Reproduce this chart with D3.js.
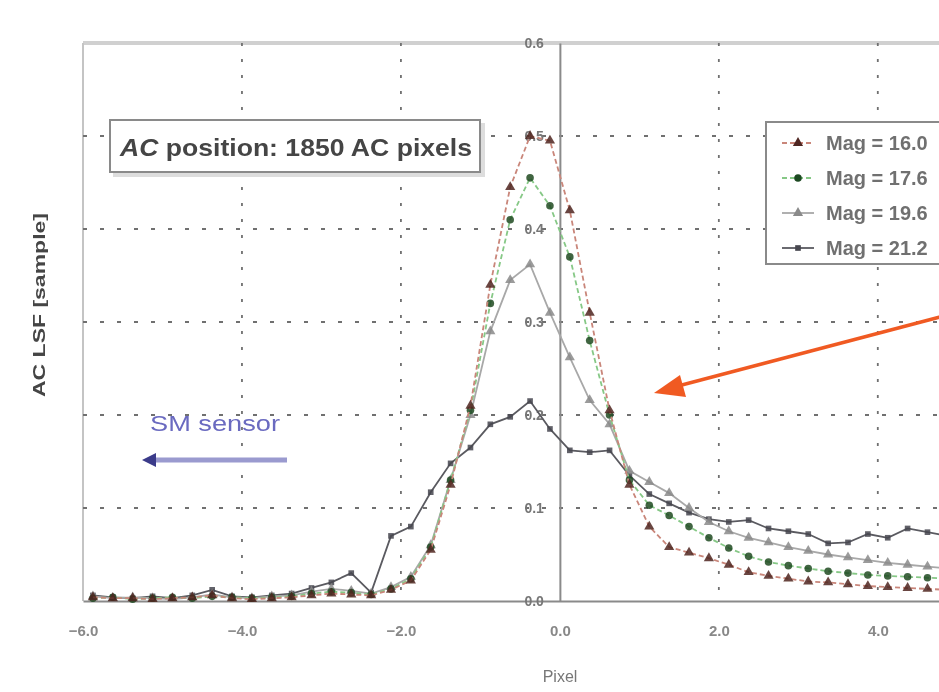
<!DOCTYPE html>
<html>
<head>
<meta charset="utf-8">
<script src="https://cdn.jsdelivr.net/npm/d3@7"></script>
<style>
  body { margin: 0; background: #fff; }
  svg { display: block; font-family: Arial, "Liberation Sans", sans-serif; }
</style>
</head>
<body>
<svg width="939" height="692"></svg>
<script>
// sample positions (pixel units)
var pixels = [-5.875, -5.625, -5.375, -5.125, -4.875, -4.625, -4.375, -4.125, -3.875, -3.625,
  -3.375, -3.125, -2.875, -2.625, -2.375, -2.125, -1.875, -1.625, -1.375, -1.125,
  -0.875, -0.625, -0.375, -0.125, 0.125, 0.375, 0.625, 0.875, 1.125, 1.375,
  1.625, 1.875, 2.125, 2.375, 2.625, 2.875, 3.125, 3.375, 3.625, 3.875,
  4.125, 4.375, 4.625, 4.875];

var mag160 = [0.004, 0.003, 0.003, 0.002, 0.003, 0.004, 0.006, 0.003, 0.002, 0.003,
  0.004, 0.006, 0.008, 0.007, 0.006, 0.012, 0.022, 0.055, 0.125, 0.21,
  0.34, 0.445, 0.50, 0.495, 0.42, 0.31, 0.205, 0.125, 0.08, 0.058,
  0.052, 0.046, 0.039, 0.031, 0.027, 0.024, 0.021, 0.02, 0.018, 0.016,
  0.015, 0.014, 0.013, 0.012];
var mag176 = [0.003, 0.004, 0.002, 0.003, 0.004, 0.003, 0.005, 0.004, 0.003, 0.004,
  0.005, 0.008, 0.01, 0.009, 0.007, 0.013, 0.024, 0.058, 0.13, 0.205,
  0.32, 0.41, 0.455, 0.425, 0.37, 0.28, 0.2, 0.13, 0.103, 0.092,
  0.08, 0.068, 0.057, 0.048, 0.042, 0.038, 0.035, 0.032, 0.03, 0.028,
  0.027, 0.026, 0.025, 0.024];
var mag196 = [0.005, 0.003, 0.004, 0.003, 0.002, 0.004, 0.007, 0.004, 0.003, 0.005,
  0.006, 0.01, 0.013, 0.011, 0.008, 0.015, 0.026, 0.06, 0.13, 0.2,
  0.29, 0.345, 0.362, 0.31, 0.262, 0.216, 0.19, 0.14, 0.128, 0.116,
  0.1, 0.085, 0.075, 0.068, 0.063, 0.058, 0.054, 0.05, 0.047, 0.044,
  0.041, 0.039, 0.037, 0.035];
var mag212 = [0.006, 0.004, 0.003, 0.005, 0.003, 0.006, 0.012, 0.005, 0.004, 0.006,
  0.008, 0.014, 0.02, 0.03, 0.009, 0.07, 0.08, 0.117, 0.148, 0.165,
  0.19, 0.198, 0.215, 0.185, 0.162, 0.16, 0.162, 0.135, 0.115, 0.105,
  0.095, 0.088, 0.085, 0.087, 0.078, 0.075, 0.072, 0.062, 0.063, 0.072,
  0.068, 0.078, 0.074, 0.07];

var seriesNames = ["Mag = 16.0", "Mag = 17.6", "Mag = 19.6", "Mag = 21.2"];
var xTicks = [-6, -4, -2, 0, 2, 4];
var yTicks = [0, 0.1, 0.2, 0.3, 0.4, 0.5, 0.6];

var series = [
  { name: seriesNames[0], values: mag160, line: "#c9867a", dash: "5,3", marker: "triangle", fill: "#4f2620" },
  { name: seriesNames[1], values: mag176, line: "#86c886", dash: "5,3", marker: "circle", fill: "#1f4a22" },
  { name: seriesNames[2], values: mag196, line: "#a8a8a8", dash: null, marker: "triangle", fill: "#8a8a8a" },
  { name: seriesNames[3], values: mag212, line: "#5a5a60", dash: null, marker: "square", fill: "#47474f" }
];

var svg = d3.select("svg");
var plotL = 83, plotR = 939, plotT = 43, plotB = 601;

var x = d3.scaleLinear().domain([-6, 4.77]).range([plotL, plotR]);
var y = d3.scaleLinear().domain([0, 0.6]).range([plotB, plotT]);

// slight softening, the reference is a blurry scan
svg.append("defs").append("filter").attr("id", "soft")
  .append("feGaussianBlur").attr("stdDeviation", 0.7);
var g = svg.append("g").attr("filter", "url(#soft)");

// frame
g.append("line").attr("x1", plotL).attr("x2", plotR).attr("y1", plotT).attr("y2", plotT)
  .attr("stroke", "#d0d0d0").attr("stroke-width", 4);
g.append("line").attr("x1", plotL).attr("x2", plotL).attr("y1", plotT).attr("y2", plotB)
  .attr("stroke", "#c4c4c4").attr("stroke-width", 2);

// grid
g.selectAll(".vg").data(xTicks.filter(function(d){ return d !== 0 && d !== -6; }))
  .enter().append("line")
  .attr("x1", function(d){ return x(d); }).attr("x2", function(d){ return x(d); })
  .attr("y1", plotT).attr("y2", plotB)
  .attr("stroke", "#707070").attr("stroke-width", 1.8).attr("stroke-dasharray", "3,13");
g.selectAll(".hg").data(yTicks.filter(function(d){ return d > 0 && d < 0.6; }))
  .enter().append("line")
  .attr("x1", plotL).attr("x2", plotR)
  .attr("y1", function(d){ return y(d); }).attr("y2", function(d){ return y(d); })
  .attr("stroke", "#707070").attr("stroke-width", 1.8).attr("stroke-dasharray", "4,13");

// axes
var xAxis = g.append("g").attr("transform", "translate(0," + plotB + ")")
  .call(d3.axisBottom(x).tickValues(xTicks).tickFormat(d3.format(".1f")).tickSize(0).tickPadding(24));
xAxis.select(".domain").attr("stroke", "#8a8a8a").attr("stroke-width", 2);
xAxis.selectAll("text").attr("font-size", 15).attr("font-weight", "bold").attr("fill", "#888");

var yAxis = g.append("g").attr("transform", "translate(" + x(0) + ",0)")
  .call(d3.axisLeft(y).tickValues(yTicks).tickFormat(d3.format(".1f")).tickSize(0).tickPadding(16));
yAxis.select(".domain").attr("stroke", "#8a8a8a").attr("stroke-width", 2);
yAxis.selectAll("text").attr("font-size", 14).attr("font-weight", "bold").attr("fill", "#777");

// axis titles
g.append("text").attr("x", 560).attr("y", 682).attr("text-anchor", "middle")
  .attr("font-size", 16).attr("fill", "#777").text("Pixel");
g.append("text").attr("transform", "translate(45,305) rotate(-90)").attr("text-anchor", "middle")
  .attr("font-size", 17).attr("font-weight", "bold").attr("fill", "#444")
  .attr("textLength", 184).attr("lengthAdjust", "spacingAndGlyphs").text("AC LSF [sample]");

// series
var line = d3.line()
  .x(function(d, i){ return x(pixels[i]); })
  .y(function(d){ return y(d); });

var sym = {
  triangle: d3.symbol().type(d3.symbolTriangle).size(45),
  circle: d3.symbol().type(d3.symbolCircle).size(45),
  square: d3.symbol().type(d3.symbolSquare).size(32)
};

series.slice().reverse().forEach(function(s){
  g.append("path").datum(s.values)
    .attr("d", line).attr("fill", "none")
    .attr("stroke", s.line).attr("stroke-width", 1.8)
    .attr("stroke-dasharray", s.dash);
  g.append("g").selectAll("path").data(s.values).enter().append("path")
    .attr("transform", function(d, i){ return "translate(" + x(pixels[i]) + "," + y(d) + ")"; })
    .attr("d", sym[s.marker]).attr("fill", s.fill).attr("opacity", 0.85);
});

// position box
g.append("rect").attr("x", 113).attr("y", 123).attr("width", 372).attr("height", 54)
  .attr("fill", "#ddd");
g.append("rect").attr("x", 110).attr("y", 120).attr("width", 370).attr("height", 52)
  .attr("fill", "#fff").attr("stroke", "#8a8a8a").attr("stroke-width", 2);
var boxText = g.append("text").attr("x", 120).attr("y", 156).attr("font-size", 24)
  .attr("font-weight", "bold").attr("fill", "#444")
  .attr("textLength", 352).attr("lengthAdjust", "spacingAndGlyphs");
boxText.append("tspan").attr("font-style", "italic").text("AC");
boxText.append("tspan").text(" position: 1850 AC pixels");

// legend
var legend = g.append("g");
legend.append("rect").attr("x", 766).attr("y", 122).attr("width", 190).attr("height", 142)
  .attr("fill", "#fff").attr("stroke", "#8a8a8a").attr("stroke-width", 2);
series.forEach(function(s, i){
  var ly = 143 + i * 35;
  legend.append("line").attr("x1", 782).attr("x2", 814).attr("y1", ly).attr("y2", ly)
    .attr("stroke", s.line).attr("stroke-width", 1.8).attr("stroke-dasharray", s.dash);
  legend.append("path").attr("transform", "translate(798," + ly + ")")
    .attr("d", sym[s.marker]).attr("fill", s.fill);
  legend.append("text").attr("x", 826).attr("y", ly + 7).attr("font-size", 20)
    .attr("font-weight", "bold").attr("fill", "#707070").text(s.name);
});

// SM sensor annotation
g.append("text").attr("x", 150).attr("y", 431).attr("font-size", 22)
  .attr("fill", "#6a6ac0")
  .attr("textLength", 130).attr("lengthAdjust", "spacingAndGlyphs").text("SM sensor");
g.append("line").attr("x1", 287).attr("x2", 152).attr("y1", 460).attr("y2", 460)
  .attr("stroke", "#9a9acf").attr("stroke-width", 5);
g.append("path").attr("d", "M142,460 L156,453 L156,467 Z").attr("fill", "#3a3a8a");

// orange arrow
g.append("line").attr("x1", 940).attr("y1", 317).attr("x2", 678).attr("y2", 386)
  .attr("stroke", "#f05a24").attr("stroke-width", 3.5);
g.append("path").attr("d", "M654,393 L680,375 L686,397 Z").attr("fill", "#f05a24");
</script>
</body>
</html>
